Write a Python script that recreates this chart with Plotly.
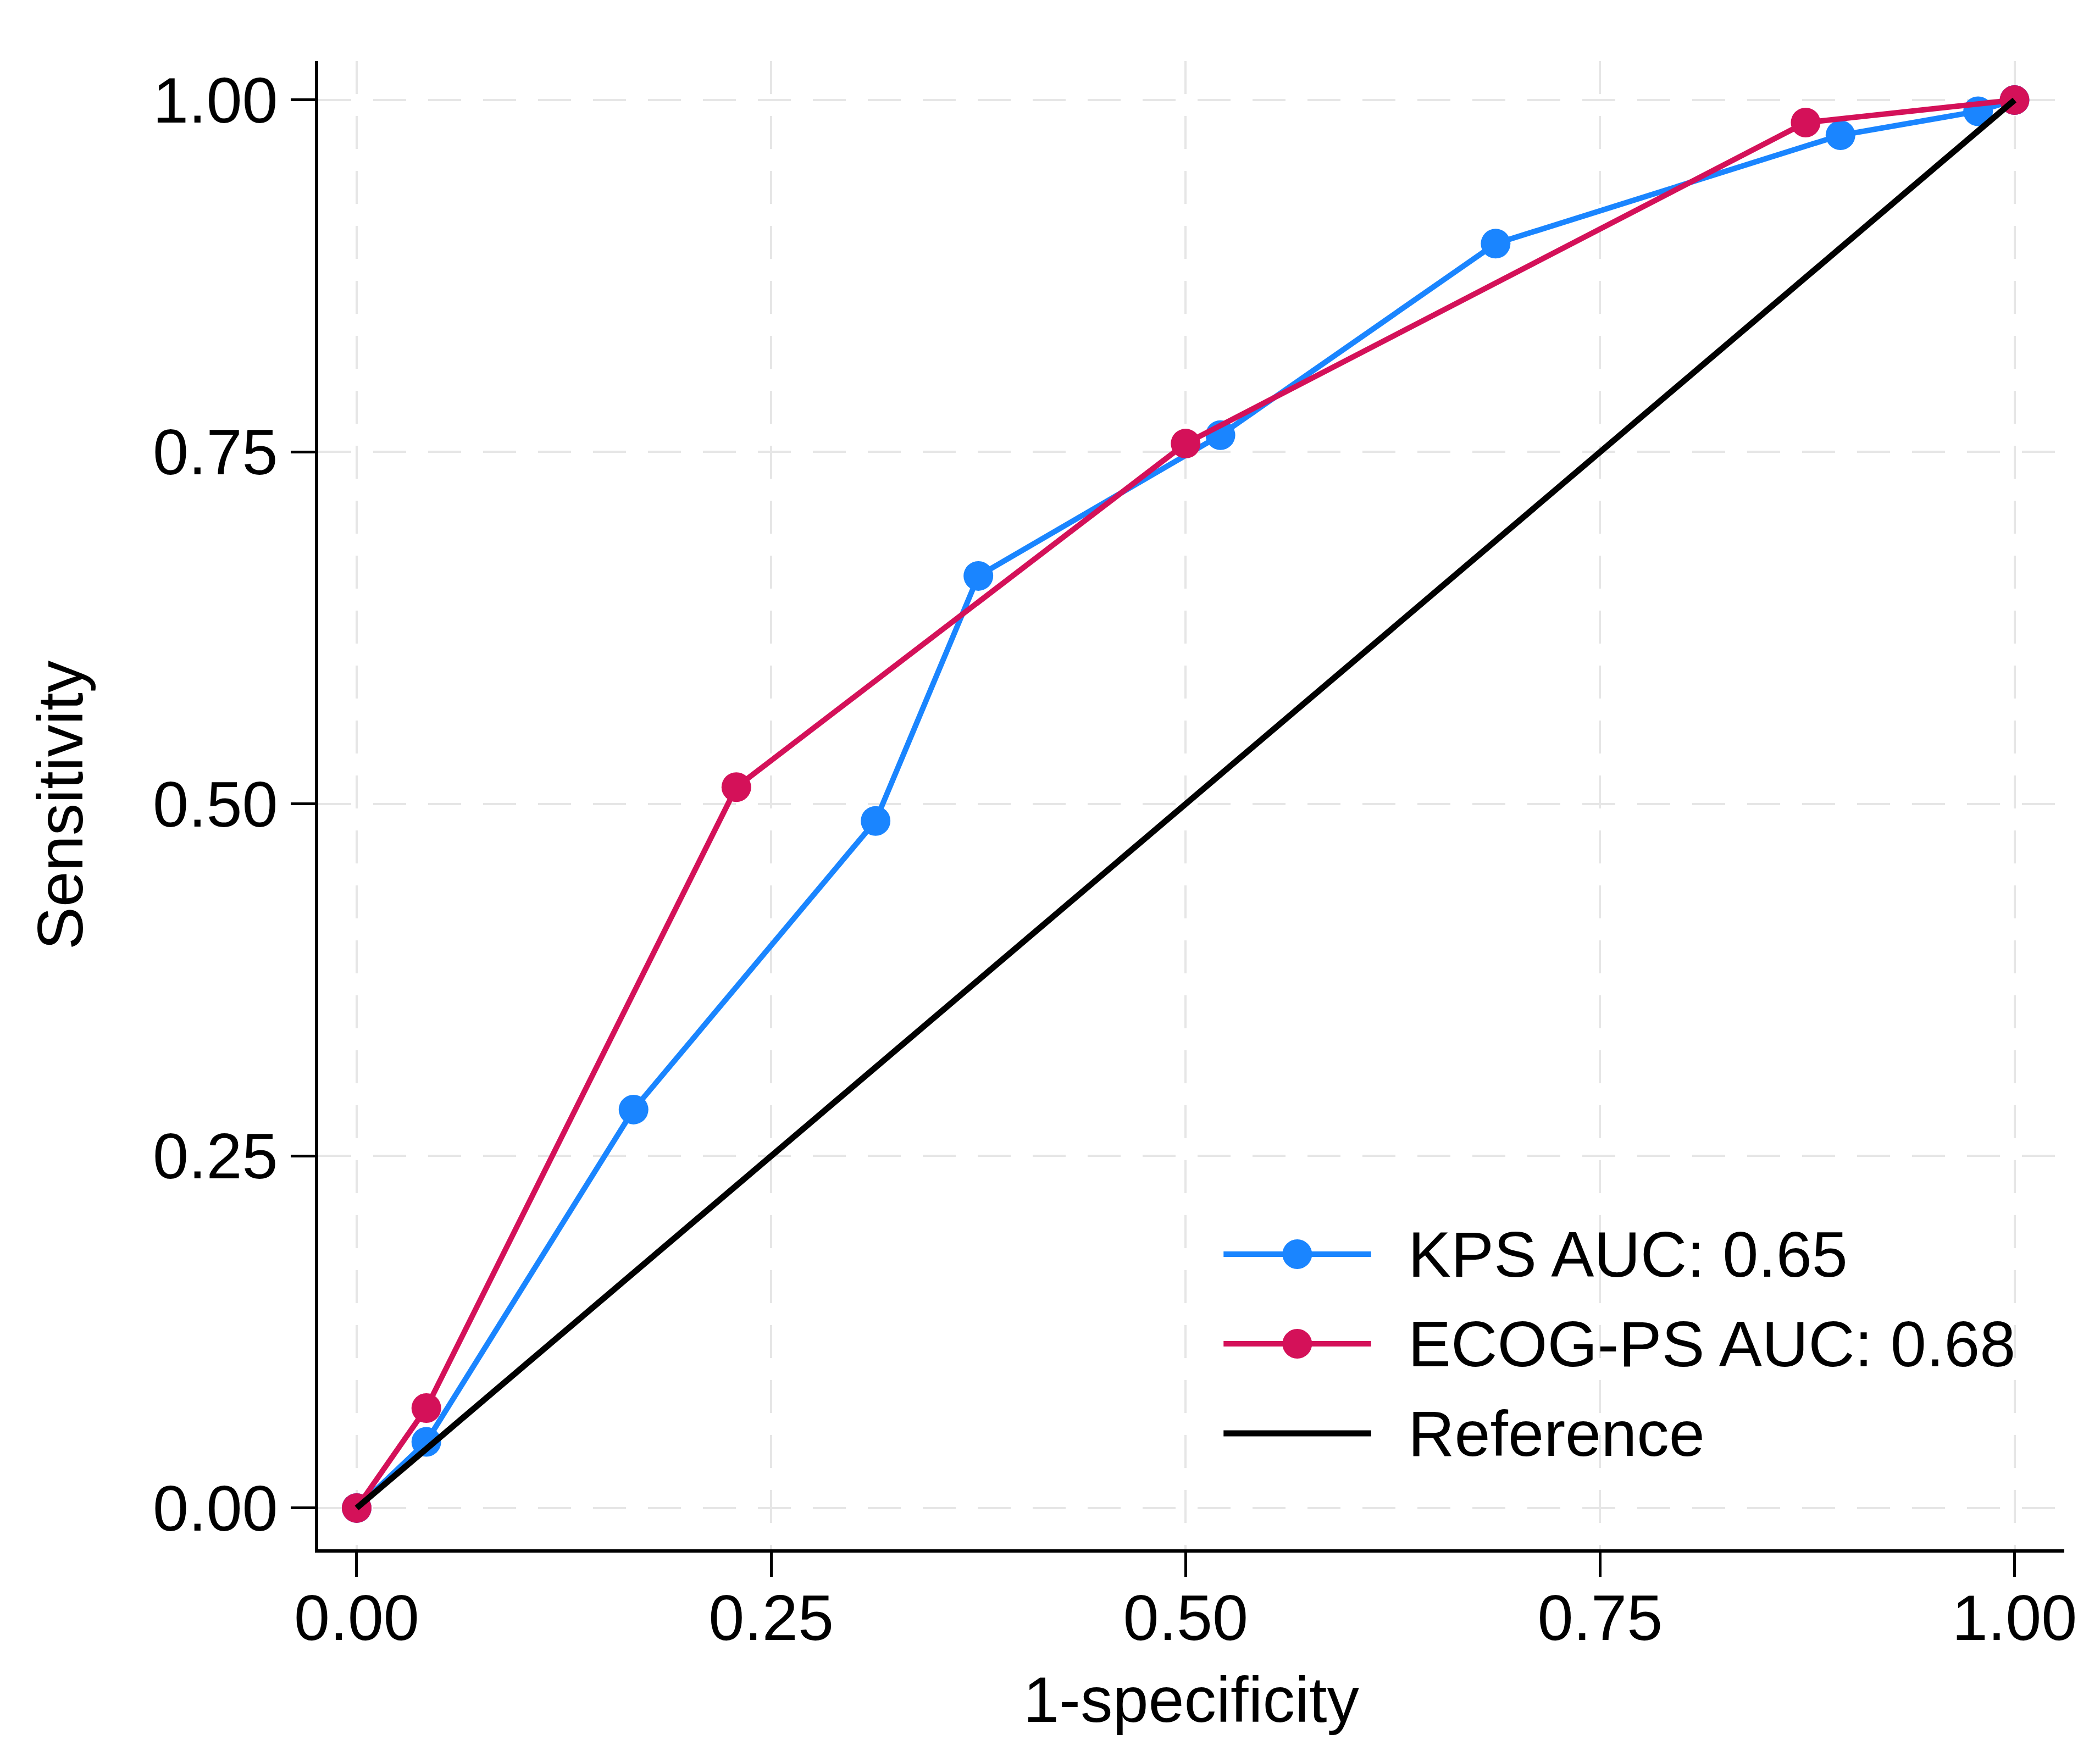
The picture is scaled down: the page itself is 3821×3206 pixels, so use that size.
import plotly.graph_objects as go

# Curvas ROC
kps_fpr = [0, 0.042, 0.167, 0.313, 0.375, 0.521, 0.687, 0.895, 0.978, 1]
kps_sens = [0, 0.047, 0.283, 0.488, 0.662, 0.762, 0.898, 0.975, 0.992, 1]

ecog_fpr = [0, 0.042, 0.229, 0.5, 0.874, 1]
ecog_sens = [0, 0.071, 0.512, 0.756, 0.984, 1]

ref_x = [0, 1]
ref_y = [0, 1]

tick_vals = [0, 0.25, 0.5, 0.75, 1]
tick_text = ['0.00', '0.25', '0.50', '0.75', '1.00']

legend_labels = ['KPS AUC: 0.65', 'ECOG-PS AUC: 0.68', 'Reference']

AZUL = '#1a85ff'
ROJO = '#d41159'
NEGRO = '#000000'
FUENTE = 'Liberation Sans, Arial, Helvetica, sans-serif'
TAM = 117

fig = go.Figure()

fig.add_trace(go.Scatter(
    x=kps_fpr, y=kps_sens, mode='lines+markers', name=legend_labels[0],
    line=dict(color=AZUL, width=10),
    marker=dict(size=54, color=AZUL)
))
fig.add_trace(go.Scatter(
    x=ecog_fpr, y=ecog_sens, mode='lines+markers', name=legend_labels[1],
    line=dict(color=ROJO, width=10),
    marker=dict(size=54, color=ROJO)
))
fig.add_trace(go.Scatter(
    x=ref_x, y=ref_y, mode='lines', name=legend_labels[2],
    line=dict(color=NEGRO, width=11)
))

# Leyenda dibujada a mano (líneas largas como en Stata)
filas_y = [0.1983, 0.1381, 0.0779]
colores = [AZUL, ROJO, NEGRO]
con_marcador = [True, True, False]
shapes = []
annotations = []
for fy, col, mk, lab in zip(filas_y, colores, con_marcador, legend_labels):
    shapes.append(dict(type='line', xref='paper', yref='paper',
                       x0=0.5185, x1=0.6030, y0=fy, y1=fy,
                       line=dict(color=col, width=11 if col == NEGRO else 10)))
    if mk:
        shapes.append(dict(type='circle', xref='paper', yref='paper',
                           xsizemode='pixel', ysizemode='pixel',
                           xanchor=0.5607, yanchor=fy,
                           x0=-27, x1=27, y0=-27, y1=27,
                           fillcolor=col, line=dict(color=col, width=0)))
    annotations.append(dict(xref='paper', yref='paper', x=0.6235, y=fy,
                            xanchor='left', yanchor='middle', showarrow=False,
                            text=lab, font=dict(size=TAM, color='black', family=FUENTE)))

fig.update_layout(
    width=3821,
    height=3206,
    plot_bgcolor='white',
    paper_bgcolor='white',
    showlegend=False,
    margin=dict(l=571, r=73, t=103, b=395),
    font=dict(family=FUENTE, size=TAM, color='black'),
    shapes=shapes,
    annotations=annotations
)

fig.update_xaxes(
    range=[-0.0232, 1.030],
    tickvals=tick_vals,
    ticktext=tick_text,
    ticks='outside',
    ticklen=44,
    tickwidth=5,
    tickcolor='black',
    ticklabelstandoff=-25,
    showline=True,
    linewidth=6,
    linecolor='black',
    showgrid=True,
    gridcolor='#e6e6e6',
    gridwidth=4,
    griddash='60px,40px',
    zeroline=False,
    tickfont=dict(size=TAM),
    title=dict(text='1-specificity', font=dict(size=TAM), standoff=45)
)

fig.update_yaxes(
    range=[-0.0293, 1.0277],
    tickvals=tick_vals,
    ticktext=tick_text,
    ticks='outside',
    ticklen=44,
    tickwidth=5,
    tickcolor='black',
    showline=True,
    linewidth=6,
    linecolor='black',
    showgrid=True,
    gridcolor='#e6e6e6',
    gridwidth=4,
    griddash='60px,40px',
    zeroline=False,
    tickfont=dict(size=TAM),
    title=dict(text='Sensitivity', font=dict(size=TAM), standoff=90)
)

fig.write_html('out.html')
